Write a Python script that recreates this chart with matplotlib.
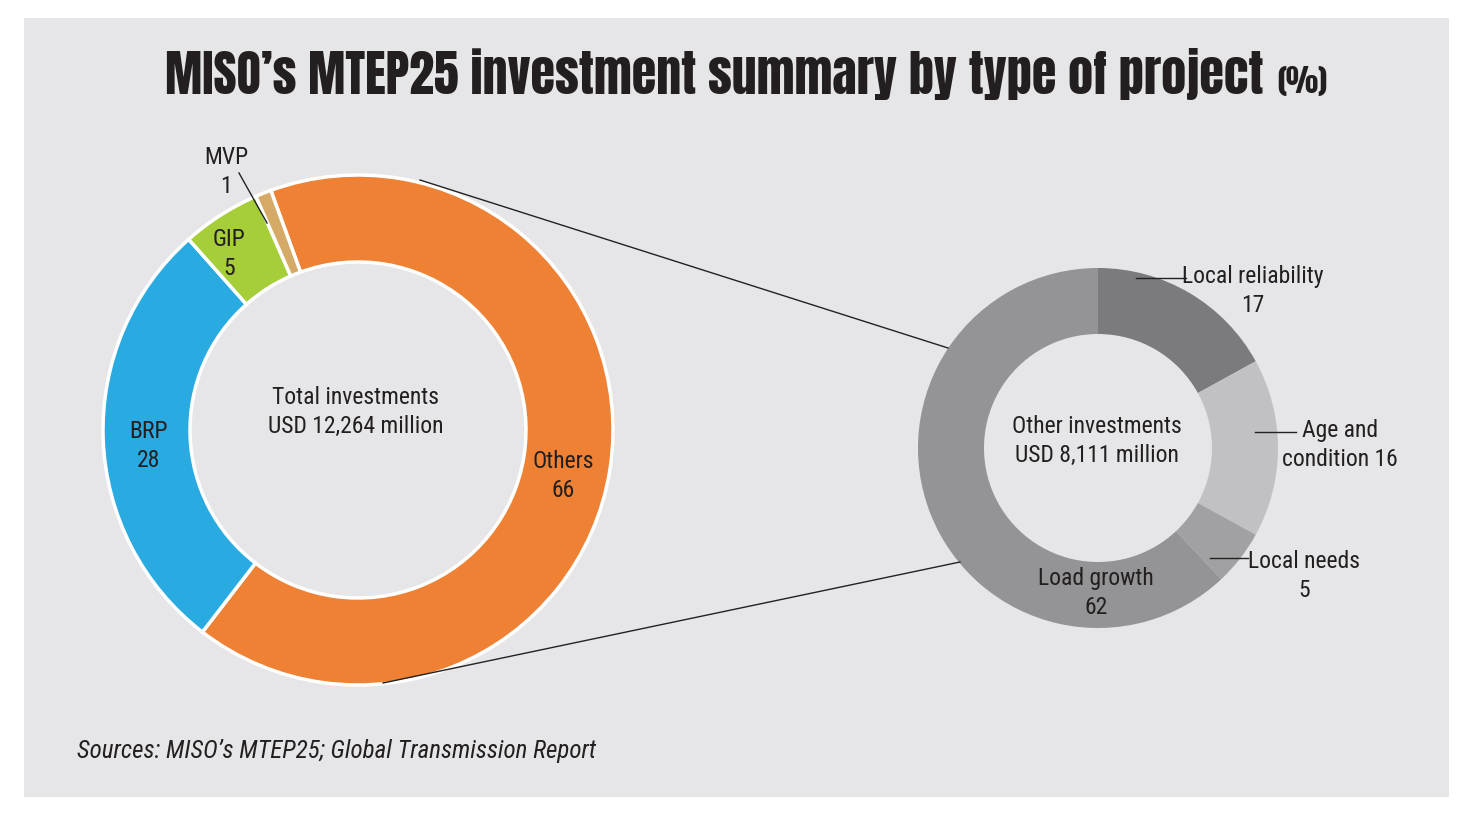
import matplotlib.pyplot as plt
from matplotlib.patches import Rectangle

W, H = 1469, 821

# left donut: share of total investments (%)
mainLabels = ["Others", "BRP", "GIP", "MVP"]
mainValues = [66, 28, 5, 1]
mainColors = ["#ee8133", "#29abe2", "#a6ce39", "#d4aa66"]

# right donut: breakdown of "Others" (%)
otherLabels = ["Local reliability", "Age and condition", "Local needs", "Load growth"]
otherValues = [17, 16, 5, 62]
otherColors = ["#7b7b7d", "#c1c1c3", "#a1a1a3", "#949496"]

TEXT = "#231f20"
NARROW = ["Roboto Condensed", "Archivo Narrow", "DejaVu Sans"]
HEAVY = ["Anton", "Roboto Condensed", "DejaVu Sans"]

fig = plt.figure(figsize=(W / 100, H / 100), dpi=100)
fig.patch.set_facecolor("white")
ax = fig.add_axes([0, 0, 1, 1])


def py(y):
  # pixel row -> data y
  return H - y


ax.add_patch(Rectangle((24, py(797)), 1425, 779, facecolor="#e6e6e8", edgecolor="none", zorder=0))

# left donut
ax.pie(mainValues, colors=mainColors, startangle=110, counterclock=False,
       center=(358, py(430)), radius=255, frame=True,
       wedgeprops=dict(width=87, edgecolor="white", linewidth=2.5))

# right donut
ax.pie(otherValues, colors=otherColors, startangle=90, counterclock=False,
       center=(1098, py(448)), radius=180, frame=True,
       wedgeprops=dict(width=66, edgecolor="none"))

ax.set_xlim(0, W)
ax.set_ylim(0, H)
ax.set_aspect("equal")
ax.axis("off")

# connector lines between the donuts
ax.plot([420, 948], [py(180), py(348)], color="#222222", lw=1, zorder=3)
ax.plot([383, 960], [py(683), py(562)], color="#222222", lw=1, zorder=3)

fs = 17


def label(x, y, s, ha="center"):
  ax.text(x, py(y), s, ha=ha, va="center", fontsize=fs, color=TEXT,
          family=NARROW, zorder=5, linespacing=1.35)


# left labels
label(226, 172, "MVP\n1")
ax.plot([239, 267], [py(173), py(223)], color="#222222", lw=1, zorder=4)
label(229, 254, "GIP\n5")
label(149, 446, "BRP\n28")
label(563, 476, "Others\n66")
label(356, 412, "Total investments\nUSD 12,264 million")

# right labels
label(1097, 441, "Other investments\nUSD 8,111 million")
label(1253, 291, "Local reliability\n17")
ax.plot([1136, 1186], [py(278), py(278)], color="#222222", lw=1, zorder=4)
label(1340, 445, "Age and\ncondition 16")
ax.plot([1255, 1296], [py(432), py(432)], color="#222222", lw=1, zorder=4)
label(1304, 576, "Local needs\n5")
ax.plot([1210, 1248], [py(558), py(558)], color="#222222", lw=1, zorder=4)
label(1096, 593, "Load growth\n62")

# title
title = ax.text(165, py(94), "MISO\u2019s MTEP25 investment summary by type of project",
                ha="left", va="baseline", fontsize=36, color=TEXT, family=HEAVY)
fig.canvas.draw()
bb = title.get_window_extent()
ax.text(bb.x1 + 14, py(93), "(%)", ha="left", va="baseline", fontsize=22,
        color=TEXT, family=HEAVY)

# source
ax.text(77, py(751), "Sources: MISO\u2019s MTEP25; Global Transmission Report",
        ha="left", va="center", fontsize=18, style="italic", color=TEXT,
        family=NARROW)

fig.savefig("out.png", dpi=100)
